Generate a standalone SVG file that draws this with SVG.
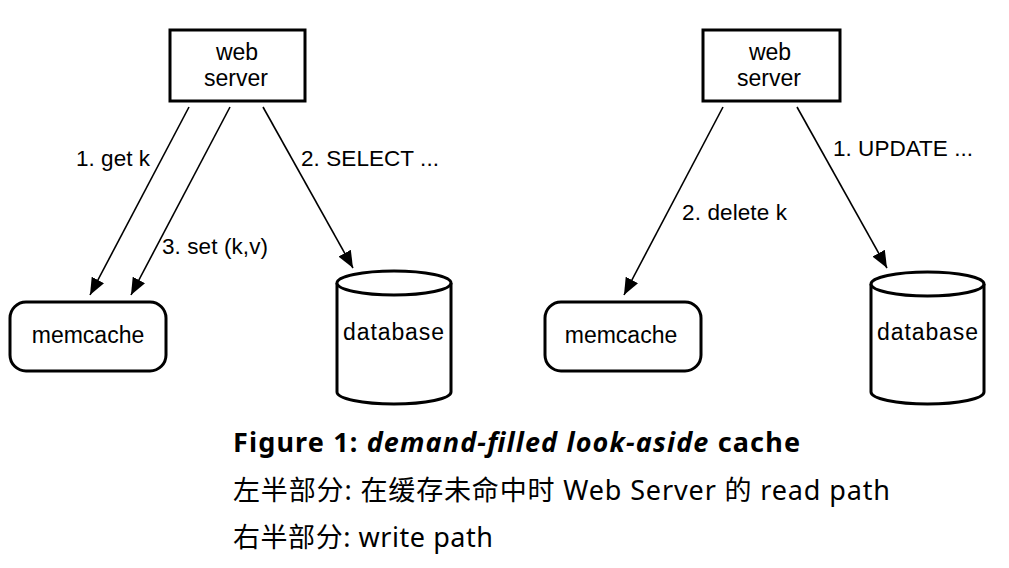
<svg xmlns="http://www.w3.org/2000/svg" width="1009" height="568" viewBox="0 0 1009 568">
<style>
.box{fill:#fff;stroke:#000;stroke-width:3}
.lbl{font-family:"Liberation Sans",Arial,sans-serif;font-size:22.5px;fill:#000}
.node{font-family:"Liberation Sans",Arial,sans-serif;font-size:23px;fill:#000}
.conn{stroke:#000;stroke-width:1.6;fill:none;marker-end:url(#ah)}
.cap{font-family:"Noto Sans","Noto Sans CJK SC",sans-serif;font-size:27px;fill:#000}
</style>
<defs>
<marker id="ah" markerUnits="userSpaceOnUse" markerWidth="18" markerHeight="14" viewBox="0 0 18 14" refX="17" refY="7" orient="auto">
<path d="M0,0 L17,7 L0,14 Z" fill="#000"/>
</marker>
</defs>
<rect width="1009" height="568" fill="#fff"/>
<g id="connectors">
<line class="conn" x1="189" y1="107" x2="90" y2="295"/>
<line class="conn" x1="230" y1="107" x2="131" y2="295"/>
<line class="conn" x1="263" y1="107" x2="353" y2="268"/>
<line class="conn" x1="723" y1="107" x2="624" y2="295"/>
<line class="conn" x1="797" y1="107" x2="887" y2="268"/>
<text class="lbl" x="76" y="166" textLength="74">1. get k</text>
<text class="lbl" x="162" y="254" textLength="106">3. set (k,v)</text>
<text class="lbl" x="301" y="166" textLength="138">2. SELECT ...</text>
<text class="lbl" x="682" y="220" textLength="105">2. delete k</text>
<text class="lbl" x="833" y="156" textLength="140">1. UPDATE ...</text>
</g>
<g id="web1">
<rect class="box" x="170" y="30" width="135" height="71"/>
<text class="node" x="237" y="60" text-anchor="middle">web</text>
<text class="node" x="236" y="86" text-anchor="middle">server</text>
</g>
<g id="memcache1">
<rect class="box" x="10" y="302" width="156" height="69" rx="16"/>
<text class="node" x="88" y="343" text-anchor="middle">memcache</text>
</g>
<g id="database1">
<path class="box" d="M337,283 L337,392 A57,12 0 0 0 451,392 L451,283"/>
<ellipse class="box" cx="394" cy="283" rx="57" ry="12"/>
<text class="node" x="343" y="340" textLength="101" font-size="24">database</text>
</g>
<g id="web2">
<rect class="box" x="703" y="30" width="137" height="71"/>
<text class="node" x="770" y="60" text-anchor="middle">web</text>
<text class="node" x="769" y="86" text-anchor="middle">server</text>
</g>
<g id="memcache2">
<rect class="box" x="545" y="302" width="156" height="69" rx="16"/>
<text class="node" x="621" y="343" text-anchor="middle">memcache</text>
</g>
<g id="database2">
<path class="box" d="M871,284 L871,392 A56.5,12 0 0 0 984,392 L984,284"/>
<ellipse class="box" cx="927.5" cy="284" rx="56.5" ry="12"/>
<text class="node" x="877" y="340" textLength="101" font-size="24">database</text>
</g>
<g id="caption">
<text class="cap" x="233" y="452" font-weight="bold" textLength="567">Figure 1: <tspan font-style="italic">demand-filled look-aside</tspan> cache</text>
<text class="cap" x="233" y="500" textLength="657">左半部分: 在缓存未命中时 Web Server 的 read path</text>
<text class="cap" x="233" y="547" textLength="260">右半部分: write path</text>
</g>
</svg>
